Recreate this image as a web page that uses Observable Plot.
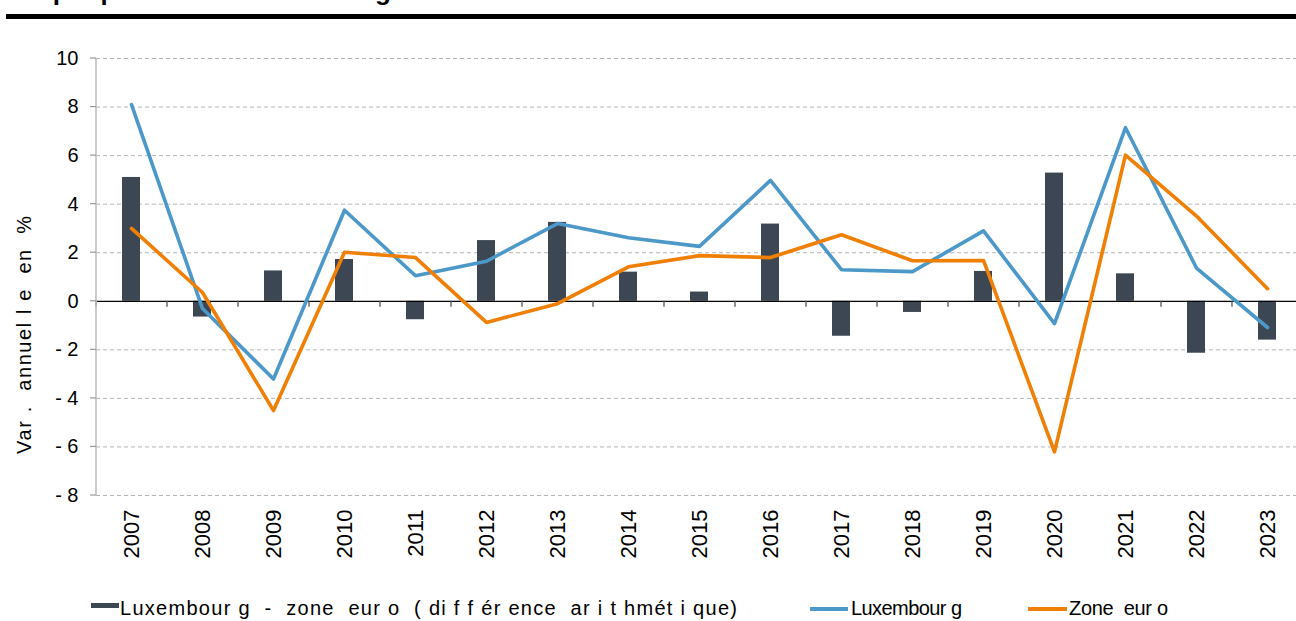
<!DOCTYPE html>
<html><head><meta charset="utf-8">
<script src="https://cdn.jsdelivr.net/npm/d3@7"></script>
<script src="https://cdn.jsdelivr.net/npm/@observablehq/plot@0.6"></script>
<style>
html,body{margin:0;padding:0;background:#fff;overflow:hidden;width:1296px;height:621px;}
#wrap{position:relative;width:1296px;height:621px;font-family:"Liberation Sans",Arial,sans-serif;}
#chart{position:absolute;left:0;top:0;}
#deco{position:absolute;left:0;top:0;pointer-events:none;}
#deco text{white-space:pre;}
</style></head><body>
<div id="wrap"><div id="chart"></div><svg id="deco" width="1296" height="621"></svg></div>
<script>
const years = ["2007","2008","2009","2010","2011","2012","2013","2014","2015","2016","2017","2018","2019","2020","2021","2022","2023"];
const luxembourg = [8.1,-0.3,-3.2,3.75,1.05,1.65,3.2,2.62,2.26,4.98,1.3,1.22,2.9,-0.92,7.15,1.37,-1.08];
const zoneEuro = [3.0,0.36,-4.5,2.02,1.8,-0.87,-0.1,1.42,1.88,1.8,2.74,1.67,1.68,-6.2,6.02,3.51,0.52];
const difference = [5.1,-0.65,1.25,1.72,-0.76,2.5,3.25,1.2,0.38,3.18,-1.44,-0.46,1.23,5.28,1.13,-2.14,-1.6];
const yTicks = [-8,-6,-4,-2,0,2,4,6,8,10];
const titleText = "Graphique 1 : PIB Luxembourg et zone euro";
const yLabel = "Var .  annuel l e  en  %";
const legendLabels = ["Luxembour g  -  zone  eur o  ( di f f ér ence  ar i t hmét i que)", "Luxembour g", "Zone  eur o"];

const colors = {bar:"#3d4753", lux:"#4b98c9", euro:"#f07f06"};
const table = years.map((year,i)=>({year, lux:luxembourg[i], euro:zoneEuro[i], diff:difference[i]}));
const FONT = "'Liberation Sans', Arial, sans-serif";

const plot = Plot.plot({
  width:1296, height:621,
  marginLeft:96, marginRight:0, marginTop:58, marginBottom:126,
  style:{fontFamily:FONT, fontSize:"20px", color:"#000", background:"transparent"},
  x:{type:"band", domain:years, range:[95.5,1302.5], paddingInner:0.75, paddingOuter:0.375, tickSize:0, tickRotate:-90, tickPadding:14, label:null},
  y:{domain:[-8,10], ticks:yTicks, tickFormat:d=> d<0 ? "- "+(-d) : String(d), tickSize:0, tickPadding:18, label:null},
  marks:[
    Plot.ruleY(yTicks.filter(d=>d!==0), {stroke:"#b5b5b5", strokeWidth:1, strokeDasharray:"4,3"}),
    Plot.barY(table, {x:"year", y:"diff", fill:colors.bar}),
    Plot.ruleY([0], {stroke:"#000", strokeWidth:1.3}),
    Plot.ruleX(years, {x:d=>d, y1:0, y2:-0.25, dx:-35.5, stroke:"#555", strokeWidth:1.3}),
    Plot.line(table, {x:"year", y:"lux", stroke:colors.lux, strokeWidth:3.6}),
    Plot.line(table, {x:"year", y:"euro", stroke:colors.euro, strokeWidth:3.6})
  ]
});
document.getElementById("chart").appendChild(plot);
d3.select(plot).selectAll("g[aria-label^='x-axis'] text").style("font-size","22px");
d3.select(plot).selectAll("g[aria-label^='y-axis'] text").style("font-size","20px");

const ys = plot.scale("y");
const deco = d3.select("#deco");
// title (cut off at the top edge in the source) and thick rule
deco.append("text").attr("x",8).attr("y",0).attr("font-weight","bold").attr("font-size",26).attr("font-family",FONT).text(titleText);
deco.append("rect").attr("x",6).attr("y",14).attr("width",1290).attr("height",5).attr("fill","#000");
// y axis line and ticks
deco.append("line").attr("x1",96).attr("x2",96).attr("y1",ys.apply(10)).attr("y2",ys.apply(-8)).attr("stroke","#bfbfbf").attr("stroke-width",1.6);
deco.selectAll("line.yt").data(yTicks).join("line").attr("class","yt")
  .attr("x1",90).attr("x2",96).attr("y1",d=>ys.apply(d)).attr("y2",d=>ys.apply(d)).attr("stroke","#999").attr("stroke-width",1.2);
// y label
deco.append("text").attr("transform","translate(31,335) rotate(-90)").attr("text-anchor","middle")
  .attr("font-size",20).attr("font-family",FONT)
  .attr("textLength",238).attr("lengthAdjust","spacing").text(yLabel);
// legend
const ly = 615;
deco.append("rect").attr("x",91).attr("y",603).attr("width",28).attr("height",5).attr("fill",colors.bar);
deco.append("text").attr("x",120).attr("y",ly).attr("font-size",20).attr("font-family",FONT).attr("textLength",617).attr("lengthAdjust","spacing").text(legendLabels[0]);
deco.append("line").attr("x1",810).attr("x2",848).attr("y1",609).attr("y2",609).attr("stroke",colors.lux).attr("stroke-width",4);
deco.append("text").attr("x",851).attr("y",ly).attr("font-size",20).attr("font-family",FONT).attr("textLength",111).attr("lengthAdjust","spacing").text(legendLabels[1]);
deco.append("line").attr("x1",1028).attr("x2",1067).attr("y1",609).attr("y2",609).attr("stroke",colors.euro).attr("stroke-width",4);
deco.append("text").attr("x",1069).attr("y",ly).attr("font-size",20).attr("font-family",FONT).attr("textLength",99).attr("lengthAdjust","spacing").text(legendLabels[2]);
</script></body></html>
